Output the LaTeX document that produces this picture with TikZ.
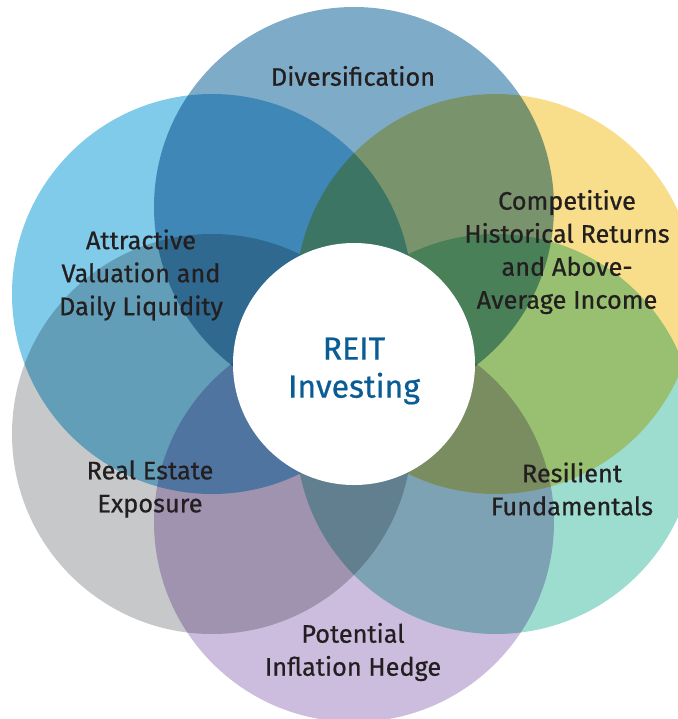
\documentclass[tikz,border=0pt]{standalone}
\usepackage{fontspec}
\setmainfont{Fira Sans}
\newfontfamily\petalfont{Fira Sans}[FakeBold=0.6]
\usetikzlibrary{positioning}
\definecolor{reitblue}{RGB}{10,92,148}
\definecolor{reitink}{RGB}{35,31,32}
\definecolor{divblue}{RGB}{125,171,200}
\definecolor{valblue}{RGB}{128,202,234}
\definecolor{retyellow}{RGB}{248,222,138}
\definecolor{fundteal}{RGB}{157,221,208}
\definecolor{hedgepurple}{RGB}{204,188,221}
\definecolor{estategray}{RGB}{199,200,202}

\begin{document}
\begin{tikzpicture}[
    x=0.75pt, y=-0.75pt,
    petaltext/.style={text=reitink, align=center, inner sep=0pt,
                      font=\petalfont\fontsize{19}{24.75}\selectfont},
    hubtext/.style={text=reitblue, align=center, inner sep=0pt,
                    font=\petalfont\fontsize{24}{28.5}\selectfont},
]
\useasboundingbox (0,0) rectangle (678,719);

% the six petals, blended so overlaps darken
\begin{scope}[blend group=multiply]
  \fill[divblue]     (354,207) circle[radius=200];
  \fill[valblue]     (212,294) circle[radius=200];
  \fill[retyellow]   (496,294) circle[radius=200];
  \fill[estategray]  (212,434) circle[radius=200];
  \fill[fundteal]    (496,434) circle[radius=200];
  \fill[hedgepurple] (354,522) circle[radius=200];
\end{scope}

% hub
\fill[white] (354,364) circle[radius=121];
\node[hubtext] (hub) at (354,371) {REIT\\Investing};

% petal captions
\node[petaltext] (div)  at (353,76)  {Diversification};
\node[petaltext] (val)  at (141,275) {Attractive\\Valuation and\\Daily Liquidity};
\node[petaltext] (ret)  at (567,252) {Competitive\\Historical Returns\\and Above-\\Average Income};
\node[petaltext] (est)  at (150,489) {Real Estate\\Exposure};
\node[petaltext] (fund) at (572,489) {Resilient\\Fundamentals};
\node[petaltext] (hedge) at (353,652) {Potential\\Inflation Hedge};

\end{tikzpicture}
\end{document}
